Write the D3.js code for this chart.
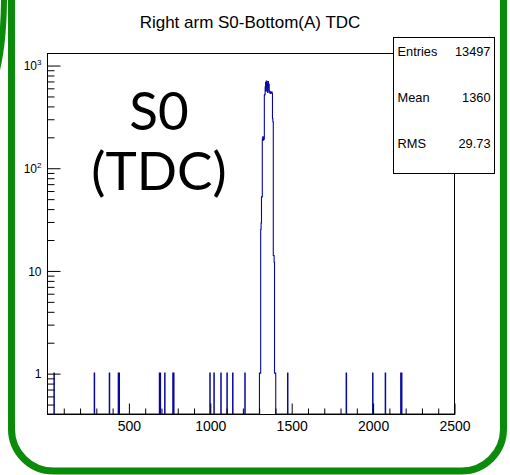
<!DOCTYPE html>
<html>
<head>
<meta charset="utf-8">
<script src="https://cdn.jsdelivr.net/npm/d3@7"></script>
<style>
  html, body { margin: 0; padding: 0; background: #fff; }
  svg { display: block; }
</style>
</head>
<body>
<script>
// ---------- data ----------
const titleText = "Right arm S0-Bottom(A) TDC";
const xDomain = [0, 2500];
const yDomain = [0.4, 1310];
const binWidth = 2.5;
// isolated single-count bins (lower bin edge)
const outlierTDC = [42.5, 290, 382.5, 437.5, 442.5, 690, 695, 722.5, 772.5, 777.5,
  1000, 1025, 1067.5, 1105, 1140, 1215, 1477.5, 1837.5, 2000, 2077.5, 2172.5, 2177.5];
// peak region, consecutive bins starting at peakStart
const peakStart = 1305;
const peakCounts = [1, 1, 1, 25, 29, 52, 52, 190, 200, 185, 195, 190, 510,
  520, 610, 680, 560, 700, 620, 660, 540, 690, 600, 650, 560, 545, 530, 550, 540, 535, 545, 530,
  300, 280, 14, 14, 12, 1, 1, 1];
const xMajorTicks = [500, 1000, 1500, 2000, 2500];
const xMinorTicks = [100, 200, 300, 400, 600, 700, 800, 900, 1100, 1200, 1300, 1400,
  1600, 1700, 1800, 1900, 2100, 2200, 2300, 2400];
const yMajorTicks = [1, 10, 100, 1000];
const yTickBase = ["1", "10", "10", "10"];
const yTickExp = ["", "", "2", "3"];
const yMinorTicks = [0.5, 0.6, 0.7, 0.8, 0.9, 2, 3, 4, 5, 6, 7, 8, 9,
  20, 30, 40, 50, 60, 70, 80, 90, 200, 300, 400, 500, 600, 700, 800, 900];
const statsLabels = ["Entries", "Mean", "RMS"];
const statsValues = ["13497", "1360", "29.73"];
const bigLabel = ["S0", "(TDC)"];

// ---------- layout ----------
const W = 510, H = 475;
const F = { left: 47, right: 454, top: 53, bottom: 414 };

const svg = d3.select("body").append("svg").attr("width", W).attr("height", H);

// green rounded border
svg.append("rect")
  .attr("x", 11.5).attr("y", -60).attr("width", 492).attr("height", 531)
  .attr("rx", 42).attr("ry", 42)
  .attr("fill", "none").attr("stroke", "#0a8c0a").attr("stroke-width", 7);
svg.append("path")
  .attr("d", "M 4,-4 Q 4,40 -3,70")
  .attr("fill", "none").attr("stroke", "#0a8c0a").attr("stroke-width", 6);

const x = d3.scaleLinear().domain(xDomain).range([F.left, F.right]);
const y = d3.scaleLog().domain(yDomain).range([F.bottom, F.top]);

// ---------- histogram ----------
const nBins = Math.round((xDomain[1] - xDomain[0]) / binWidth);
const counts = new Array(nBins).fill(0);
outlierTDC.forEach(v => { counts[Math.round((v - xDomain[0]) / binWidth)] += 1; });
peakCounts.forEach((c, i) => { counts[Math.round((peakStart - xDomain[0]) / binWidth) + i] = c; });

const pts = [];
counts.forEach((c, i) => {
  const lo = xDomain[0] + i * binWidth, hi = lo + binWidth;
  const yy = c > 0 ? y(c) : F.bottom;
  pts.push([x(lo), yy], [x(hi), yy]);
});
svg.append("path")
  .attr("d", d3.line()(pts))
  .attr("fill", "none").attr("stroke", "#0808a0").attr("stroke-width", 1.1);

// ---------- frame ----------
svg.append("rect")
  .attr("x", F.left + 0.5).attr("y", F.top + 0.5)
  .attr("width", F.right - F.left).attr("height", F.bottom - F.top)
  .attr("fill", "none").attr("stroke", "#000").attr("stroke-width", 1);

// ---------- axes ----------
const font = "'Liberation Sans', Arial, Helvetica, sans-serif";

const gxMinor = svg.append("g").attr("transform", `translate(0.5,${F.bottom + 0.5})`)
  .call(d3.axisBottom(x).tickValues(xMinorTicks).tickSizeInner(-6).tickSizeOuter(0).tickFormat(""));
const gx = svg.append("g").attr("transform", `translate(0.5,${F.bottom + 0.5})`)
  .call(d3.axisBottom(x).tickValues(xMajorTicks).tickSizeInner(-11).tickSizeOuter(0).tickPadding(6)
    .tickFormat(d3.format("d")));
[gxMinor, gx].forEach(g => {
  g.select(".domain").remove();
  g.selectAll("line").attr("stroke", "#000");
});
gx.selectAll("text").attr("font-family", font).attr("font-size", 14).attr("fill", "#000")
  .attr("dy", "0.75em");

const gyMinor = svg.append("g").attr("transform", `translate(${F.left + 0.5},0.5)`)
  .call(d3.axisLeft(y).tickValues(yMinorTicks).tickSizeInner(-7).tickSizeOuter(0).tickFormat(""));
const gy = svg.append("g").attr("transform", `translate(${F.left + 0.5},0.5)`)
  .call(d3.axisLeft(y).tickValues(yMajorTicks).tickSizeInner(-13).tickSizeOuter(0).tickPadding(7)
    .tickFormat(""));
[gyMinor, gy].forEach(g => {
  g.select(".domain").remove();
  g.selectAll("line").attr("stroke", "#000");
});
gy.selectAll(".tick text").each(function (d, i) {
  const t = d3.select(this)
    .attr("font-family", font).attr("font-size", 12).attr("fill", "#000")
    .attr("x", -6).attr("dy", "0.35em").attr("text-anchor", "end");
  t.text(null);
  t.append("tspan").text(yTickBase[i]);
  if (yTickExp[i]) {
    t.append("tspan").text(yTickExp[i]).attr("font-size", 8).attr("dy", "-0.6em");
  }
});

// ---------- title ----------
svg.append("text")
  .attr("x", 250).attr("y", 28)
  .attr("text-anchor", "middle")
  .attr("font-family", font).attr("font-size", 17).attr("fill", "#000")
  .text(titleText);

// ---------- stats box ----------
const sb = { x: 393.5, y: 37.5, w: 101, h: 136 };
svg.append("rect").attr("x", sb.x).attr("y", sb.y).attr("width", sb.w).attr("height", sb.h)
  .attr("fill", "#fff").attr("stroke", "#000").attr("stroke-width", 1);
const rowY = d3.scalePoint().domain(statsLabels).range([sb.y + 14, sb.y + sb.h - 30]);
statsLabels.forEach((lab, i) => {
  svg.append("text").attr("x", sb.x + 4).attr("y", rowY(lab)).attr("dy", "0.35em")
    .attr("font-family", font).attr("font-size", 12.8).attr("fill", "#000").text(lab);
  svg.append("text").attr("x", sb.x + sb.w - 4).attr("y", rowY(lab)).attr("dy", "0.35em")
    .attr("text-anchor", "end")
    .attr("font-family", font).attr("font-size", 12.8).attr("fill", "#000").text(statsValues[i]);
});

// ---------- big annotation ----------
bigLabel.forEach((s, i) => {
  svg.append("text").attr("x", 159).attr("y", 130 + i * 60)
    .attr("text-anchor", "middle")
    .attr("font-family", "Lato, 'Open Sans', sans-serif").attr("font-size", 53).attr("fill", "#000")
    .text(s);
});
</script>
</body>
</html>
